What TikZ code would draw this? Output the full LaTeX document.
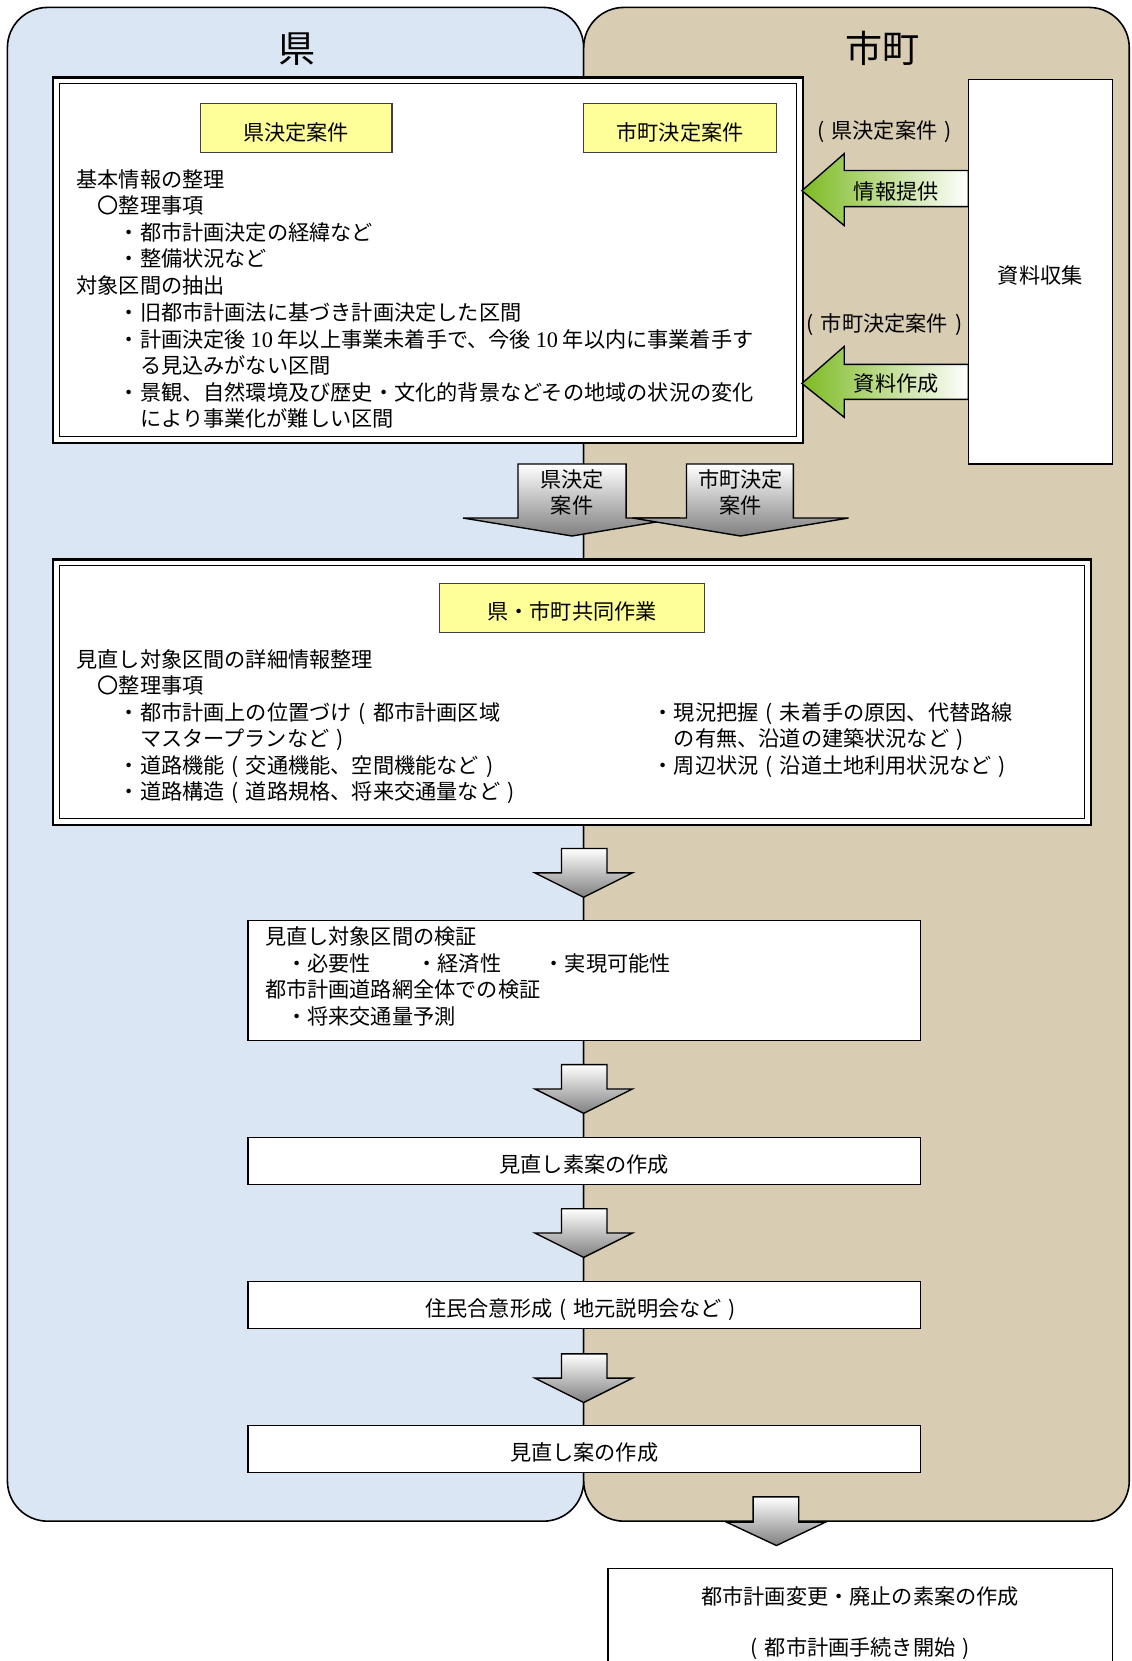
\documentclass[tikz,border=0pt]{standalone}
\usepackage{fontspec}
\setmainfont{Noto Sans CJK JP}
\newfontfamily\jp{Noto Sans CJK JP}
\newfontfamily\tms{Liberation Serif}
\usetikzlibrary{shadings}
\definecolor{kenblue}{HTML}{DAE6F4}
\definecolor{shibeige}{HTML}{D8CDB3}
\definecolor{hlyellow}{HTML}{FFFF99}
\definecolor{leafgreen}{HTML}{7DBA22}
\newcommand{\num}[1]{{\tms\fontsize{21}{24}\selectfont #1}}
\newcommand{\lpa}{\makebox[1em][c]{(}}
\newcommand{\rpa}{\makebox[1em][c]{)}}
\tikzset{
  jpf/.style={font=\jp\fontsize{20}{24}\selectfont},
  txt/.style={jpf, anchor=base west, inner sep=0pt},
  ctxt/.style={jpf, anchor=base, inner sep=0pt},
  ttl/.style={anchor=center, inner sep=0pt, font=\jp\fontsize{35}{40}\selectfont},
  panel/.style={draw=black, line width=1.5pt, rounded corners=38pt},
  ybox/.style={jpf, draw=black!75, line width=1.2pt, fill=hlyellow, inner sep=0pt, text height=25pt, text depth=2.5pt},
  wbox/.style={jpf, draw=black, line width=1.2pt, fill=white, inner sep=0pt},
  lbox/.style={wbox, text height=24pt, text depth=2.5pt},
  dblout/.style={draw=black, line width=2.4pt, fill=white},
  dblin/.style={draw=black, line width=1.2pt},
  grayarrow/.style={draw=black, line width=1.3pt, top color=white, bottom color=black!50, line join=miter},
  greenarrow/.style={draw=black, line width=1.3pt, left color=leafgreen, right color=white, line join=miter},
}
\begin{document}
\begin{tikzpicture}[x=1pt,y=-1pt]
\useasboundingbox (0,0) rectangle (1068,1568);
% panels
\draw[panel, fill=kenblue] (7,7) rectangle (551,1436);
\draw[panel, fill=shibeige] (551,7) rectangle (1066,1436);
\node[ttl] (tken) at (280,46) {県};
\node[ttl] (tshi) at (833,46) {市町};

% top double box
\draw[dblout] (50,73) rectangle (758,418);
\draw[dblin] (56,79) rectangle (752,412);
\node[ybox, minimum width=181pt, minimum height=46pt] (yken) at (279.5,121) {県決定案件};
\node[ybox, minimum width=182pt, minimum height=46pt] (yshi) at (642,121) {市町決定案件};
\node[txt] (a1) at (72,177) {基本情報の整理};
\node[txt] (a2) at (92,202) {〇整理事項};
\node[txt] (a3) at (112,227) {・都市計画決定の経緯など};
\node[txt] (a4) at (112,252) {・整備状況など};
\node[txt] (a5) at (72,277) {対象区間の抽出};
\node[txt] (a6) at (112,303) {・旧都市計画法に基づき計画決定した区間};
\node[txt] (a7) at (112,328) {・計画決定後 \num{10} 年以上事業未着手で、今後 \num{10} 年以内に事業着手す};
\node[txt] (a8) at (132,353) {る見込みがない区間};
\node[txt] (a9) at (112,378) {・景観、自然環境及び歴史・文化的背景などその地域の状況の変化};
\node[txt] (a10) at (132,403) {により事業化が難しい区間};

% right side: data collection
\node[lbox, minimum width=136pt, minimum height=363pt] (shiryo) at (982,256.5) {資料収集};
\node[ctxt] (l1) at (835,131) {\lpa 県決定案件\rpa};
\node[ctxt] (l2) at (835,313) {\lpa 市町決定案件\rpa};
\draw[greenarrow] (914,161) -- (797,161) -- (797,145) -- (757,180) -- (797,213) -- (797,195) -- (914,195) -- cycle;
\node[ctxt] (g1) at (846,188) {情報提供};
\draw[greenarrow] (914,344) -- (797,344) -- (797,327) -- (757,362) -- (797,394) -- (797,377) -- (914,377) -- cycle;
\node[ctxt] (g2) at (846,370) {資料作成};

% two gray arrows
\draw[grayarrow] (489,438) -- (591,438) -- (591,489) -- (642,489) -- (540,506) -- (437,489) -- (489,489) -- cycle;
\draw[grayarrow] (648,438) -- (749,438) -- (749,489) -- (801,489) -- (699,506) -- (597,489) -- (648,489) -- cycle;
\node[ctxt] (ga1) at (540,460) {県決定};
\node[ctxt] (ga2) at (540,485) {案件};
\node[ctxt] (gb1) at (699,460) {市町決定};
\node[ctxt] (gb2) at (699,485) {案件};

% middle double box
\draw[dblout] (50,528) rectangle (1030,779);
\draw[dblin] (56,534) rectangle (1024,773);
\node[ybox, minimum width=250pt, minimum height=46pt] (ykyo) at (540,574) {県・市町共同作業};
\node[txt] (b1) at (72,630) {見直し対象区間の詳細情報整理};
\node[txt] (b2) at (92,655) {〇整理事項};
\node[txt] (b3) at (112,680) {・都市計画上の位置づけ\lpa 都市計画区域};
\node[txt] (b4) at (132,705) {マスタープランなど\rpa};
\node[txt] (b5) at (112,730) {・道路機能\lpa 交通機能、空間機能など\rpa};
\node[txt] (b6) at (112,755) {・道路構造\lpa 道路規格、将来交通量など\rpa};
\node[txt] (b7) at (616,680) {・現況把握\lpa 未着手の原因、代替路線};
\node[txt] (b8) at (636,705) {の有無、沿道の建築状況など\rpa};
\node[txt] (b9) at (616,730) {・周辺状況\lpa 沿道土地利用状況など\rpa};

% small arrows
\foreach \yy in {801,1005,1141,1278}{
  \draw[grayarrow] (530,\yy) -- (573,\yy) -- (573,\yy+23) -- (597,\yy+23) -- (551,\yy+46) -- (505,\yy+23) -- (530,\yy+23) -- cycle;
}

% verification box
\draw[wbox] (234,869) rectangle (869,982);
\node[txt] (c1) at (250,892) {見直し対象区間の検証};
\node[txt] (c2) at (270,917) {・必要性};
\node[txt] (c3) at (393,917) {・経済性};
\node[txt] (c4) at (513,917) {・実現可能性};
\node[txt] (c5) at (250,942) {都市計画道路網全体での検証};
\node[txt] (c6) at (270,967) {・将来交通量予測};

\node[lbox, minimum width=635pt, minimum height=44pt] (d1) at (551.5,1096) {見直し素案の作成};
\node[lbox, minimum width=635pt, minimum height=44pt] (d2) at (551.5,1232) {住民合意形成\lpa 地元説明会など\rpa};
\node[lbox, minimum width=635pt, minimum height=44pt] (d3) at (551.5,1368) {見直し案の作成};

% bottom arrow
\draw[grayarrow] (711,1413) -- (754,1413) -- (754,1437) -- (779,1437) -- (733,1459) -- (686,1437) -- (711,1437) -- cycle;

% bottom box (cut off)
\fill[white] (574,1481) rectangle (1050,1572);
\draw[black, line width=1.2pt] (574,1572) -- (574,1481) -- (1050,1481) -- (1050,1572);
\node[ctxt] (e1) at (812,1515) {都市計画変更・廃止の素案の作成};
\node[ctxt] (e2) at (812,1563) {\lpa 都市計画手続き開始\rpa};
\end{tikzpicture}
\end{document}
